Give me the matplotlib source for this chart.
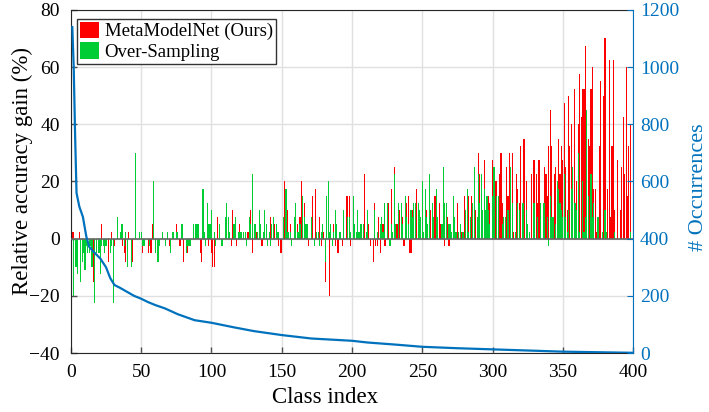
import numpy as np
import matplotlib
matplotlib.use("Agg")
import matplotlib.pyplot as plt
from matplotlib.patches import Patch

plt.rcParams['font.family'] = ['Liberation Serif', 'DejaVu Serif']
plt.rcParams['mathtext.fontset'] = 'stix'

# relative accuracy gain per class (%), classes sorted by # occurrences
metamodelnet = [
    2.5, 2.5, 0, -2.5, -2.5, 2.5, 0, 0, 0, 0,
    0, 0, -2.5, 0, 0, -15, 0, 0, 0, -5,
    0, 5, 0, -2.5, 0, 0, -8, 0, 2.5, 0,
    -2.5, 0, 0, 0, 0, 0, -2.5, -5, -8, 0,
    2.5, 0, -8, -8, 0, 0, 0, 0, 0, 0,
    -5, -2.5, 0, 0, -5, 0, -5, 5, 5, -5,
    0, 0, -2.5, 0, 0, 0, -2.5, 0, 0, -2.5,
    0, 0, 2.5, 0, 5, 0, -2.5, -2.5, 0, -8,
    0, -2.5, -5, 0, 0, 0, 2.5, 0, 0, 0,
    0, -5, -8, 0, 0, 0, 0, -2.5, 0, -5,
    -10, -10, 0, 7.5, 0, 5, -2.5, -2.5, 0, 0,
    0, 0, 2.5, -2.5, 10, 0, 0, -2.5, 0, 5,
    0, 0, 0, 0, 0, 2.5, 7.5, 10, -5, 0,
    0, 2.5, 0, 0, 2.5, -2.5, 0, 0, 0, 0,
    0, 7.5, 0, 5, 5, 5, 0, -2.5, -5, -5,
    0, 20, 0, 10, 0, 5, -2.5, 0, 5, 0,
    5, 0, 7.5, 20, 0, 12.5, 0, 0, -2.5, 0,
    0, 15, 0, 17.5, 0, 0, 7.5, -2.5, 0, 2.5,
    -15, 0, 0, -20, 0, 0, 5, -2.5, 0, -5,
    2.5, 0, -2.5, 7.5, 0, 15, 15, 15, -2.5, 0,
    0, 0, 0, 0, 0, 0, 2.5, 0, 22.5, 0,
    0, 5, -2.5, 0, -8, 12.5, -2.5, -2.5, 7.5, -5,
    0, 5, -2.5, -2.5, 0, 12.5, 0, 17.5, 0, 25,
    0, 5, 0, 10, 0, 7.5, -2.5, 0, 12.5, 15,
    -5, -5, 10, 0, 0, 17.5, 5, 7.5, 0, 5,
    0, 0, 10, 0, 0, 10, 0, 0, 15, 0,
    0, 12.5, 5, 0, 0, -2.5, 0, 7.5, -2.5, 0,
    0, 15, 0, 0, 12.5, 0, 0, 2.5, 0, 15,
    0, 0, 15, 0, 15, 0, 0, 10, 0, 30,
    22.5, 20, 0, 27.5, 10, 0, 15, 12.5, 0, 27.5,
    17.5, 20, 20, 0, 22.5, 30, 12.5, 0, 0, 25,
    15, 30, 17.5, 30, 2.5, 0, 22.5, 17.5, 12.5, 32.5,
    5, 35, 35, 20, 0, 0, 0, 22.5, 27.5, 27.5,
    22.5, 12.5, 27.5, 2.5, 0, 0, 25, 22.5, 15, 32.5,
    45, 32.5, 0, 22.5, 25, 20, 35, 22.5, 32.5, 27.5,
    47.5, 25, 10, 50, 32.5, 40, 25, 52.5, 0, 20,
    40, 57.5, 42.5, 52.5, 52.5, 67.5, 45, 35, 32.5, 52.5,
    60, 17.5, 17.5, 2.5, 0, 32.5, 55, 0, 50, 70,
    2.5, 17.5, 62.5, 7.5, 32.5, 62.5, 10, 0, 27.5, 0,
    10, 25, 42.5, 22.5, 60, 15, 32.5, 40, 0, 0,
]
oversampling = [
    0, -20, -10, -10, -12.5, 0, -15, -8, -5, -11,
    -2.5, -5, -5, -2.5, -10, 0, -22.5, -5, 0, -5,
    -12.5, -2.5, -2.5, -5, -2.5, 0, 0, -5, -2.5, -22.5,
    0, 0, 7.5, 0, 2.5, 5, 5, -2.5, 2.5, -10,
    0, 0, -10, 0, 0, 30, 0, 0, 2.5, 2.5,
    -2.5, -2.5, 0, 0, 0, -2.5, 0, 0, 20, -5,
    0, -8, -2.5, 0, 2.5, 0, -2.5, 0, 2.5, 0,
    -5, 2.5, 2.5, 0, 2.5, 2.5, 0, 0, 5, 0,
    0, -5, -2.5, -2.5, -2.5, 0, 5, 0, 5, 5,
    5, 0, 0, 17.5, 2.5, -2.5, 12.5, 5, 5, 10,
    0, 2.5, -2.5, 0, 0, 5, -2.5, -2.5, 0, 7.5,
    12.5, 7.5, 2.5, 0, 0, 5, 7.5, 0, 2.5, 2.5,
    2.5, 0, 2.5, 2.5, -2.5, 0, 7.5, 5, 22.5, 0,
    5, 0, 2.5, 10, 5, 0, 2.5, 10, 5, -2.5,
    2.5, -2.5, 5, 7.5, 0, 5, 2.5, 2.5, 0, 0,
    7.5, 0, 17.5, 2.5, 2.5, 2.5, -2.5, 0, 7.5, 12.5,
    2.5, 2.5, 5, 0, 15, 7.5, 5, 5, 0, 0,
    7.5, 0, -2.5, 0, 2.5, 2.5, -2.5, 2.5, 5, 0,
    -8, 15, 20, 2.5, 5, -2.5, 2.5, 10, 5, 0,
    2.5, 2.5, 0, 10, 0, 0, 7.5, 7.5, 2.5, 0,
    15, 5, 2.5, 10, 2.5, 5, 5, 5, 0, 2.5,
    10, 0, 0, 0, 0, 10, 0, 2.5, 0, 5,
    7.5, 2.5, 12.5, 0, 12.5, 0, -2.5, 5, 2.5, 22.5,
    5, 0, 12.5, 0, 12.5, 5, 0, 15, 7.5, 5,
    0, 10, 7.5, 12.5, 12.5, 0, 12.5, 10, 7.5, 20,
    2.5, 17.5, 7.5, 5, 22.5, 0, 12.5, 7.5, 0, 17.5,
    7.5, 0, 0, 5, 25, 12.5, 12.5, 0, 5, 5,
    2.5, 15, 7.5, 2.5, 0, 2.5, 5, 0, 2.5, 0,
    10, 17.5, 2.5, 7.5, 0, 12.5, 25, 0, 7.5, 22.5,
    12.5, 22.5, 10, 17.5, 10, 15, 10, 5, 0, 15,
    25, 0, 15, 15, 0, 0, 5, 7.5, 7.5, 0,
    10, 0, 25, 12.5, 0, 2.5, 0, 12.5, 10, 0,
    12.5, 12.5, 0, 10, 5, 2.5, 0, 0, 12.5, 12.5,
    0, 7.5, 0, 12.5, 0, 12.5, 12.5, 0, 7.5, -2.5,
    15, 7.5, 7.5, 0, 5, 20, 17.5, 12.5, 10, 7.5,
    22.5, 7.5, 2.5, 10, 0, 17.5, 25, 12.5, 12.5, 10,
    30, 2.5, 0, 20, 2.5, 7.5, 45, 15, 0, 22.5,
    7.5, 12.5, 0, 0, 7.5, 0, 0, 2.5, 0, 10,
    2.5, 0, 0, 0, 0, 0, 2.5, 0, 0, 0,
    0, 0, 0, 0, 0, 0, 0, 2.5, 0, 0,
]

# number of occurrences (training samples)
occ_class = [1, 2, 3, 4, 6, 8.5, 11, 13, 16, 21, 25, 28, 31, 35, 40, 45, 50, 55,
             60, 67, 76, 88, 100, 116, 130, 150, 171, 200, 211, 230, 250, 275,
             300, 325, 350, 375, 400]
occ_count = [1140, 1000, 760, 560, 512, 477, 407, 372, 355, 330, 300, 262, 238,
             228, 214, 200, 190, 178, 168, 156, 136, 115, 106, 90, 77, 63, 51,
             43, 37, 30, 22, 17, 13, 9, 5, 3, 1]

red = '#FF0000'
green = '#00CC33'
blue = '#0072BD'

cls = np.arange(1, len(metamodelnet) + 1)

fig = plt.figure(figsize=(7.09, 4.12), dpi=100)
ax = fig.add_axes([0.100, 0.143, 0.793, 0.833])
ax.bar(cls, metamodelnet, width=0.8, color=red, linewidth=0, zorder=2)
ax.bar(cls, oversampling, width=0.8, color=green, linewidth=0, zorder=3)
ax.axhline(0, color='0.4', lw=1.2, zorder=4)

ax.set_xlim(0, 400)
ax.set_ylim(-40, 80)
ax.set_xticks(range(0, 401, 50))
ax.set_yticks(range(-40, 81, 20))
ax.grid(True, color='0.88', lw=1)
ax.set_axisbelow(True)
ax.tick_params(direction='in', labelsize=14, length=4, width=1, color='0.3')
ax.tick_params(axis='x', pad=8)
ax.tick_params(axis='y', pad=8)
ax.set_xlabel('Class index', fontsize=16.5)
ax.set_ylabel('Relative accuracy gain (%)', fontsize=16.5)
ax.xaxis.set_label_coords(0.452, -0.1)
ax.yaxis.set_label_coords(-0.068, 0.531)
for s in ['left', 'bottom', 'top']:
    ax.spines[s].set_color('0.15')
ax.spines['right'].set_visible(False)

ax2 = ax.twinx()
ax2.plot(occ_class, occ_count, color=blue, lw=1.6, zorder=5)
ax2.set_ylim(0, 1200)
ax2.set_yticks(range(0, 1201, 200))
ax2.tick_params(direction='in', labelsize=14, colors=blue, length=4, pad=5)
ax2.set_ylabel('# Occurrences', fontsize=16, color=blue)
ax2.yaxis.set_label_coords(1.100, 0.484)
ax2.spines['right'].set_color(blue)
ax2.spines['left'].set_visible(False)
ax2.spines['top'].set_visible(False)
ax2.spines['bottom'].set_visible(False)

handles = [Patch(facecolor=red), Patch(facecolor=green)]
leg = ax2.legend(handles, ['MetaModelNet (Ours)', 'Over-Sampling'], loc='upper left',
                 bbox_to_anchor=(0.005, 0.985), fontsize=13.5, frameon=True, fancybox=False,
                 handlelength=1.0, handleheight=1.0, handletextpad=0.3,
                 borderpad=0.15, labelspacing=0.1, borderaxespad=0.2)
leg.get_frame().set_edgecolor('0.2')
leg.get_frame().set_linewidth(1)
leg.get_frame().set_alpha(1)

fig.savefig('out.png', dpi=100)
